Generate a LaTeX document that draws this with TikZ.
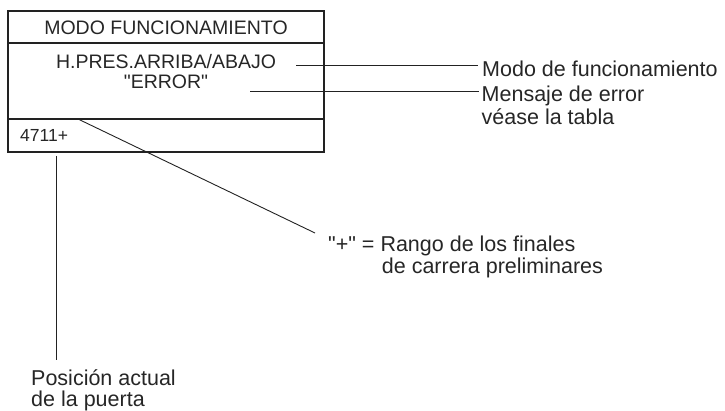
\documentclass[tikz,border=0pt]{standalone}
\usepackage{fontspec}
\setmainfont{Liberation Sans}
\definecolor{txt}{HTML}{262626}
\definecolor{ln}{HTML}{222222}
\begin{document}
\begin{tikzpicture}[x=1pt,y=-1pt,
  boxline/.style={draw=ln,line width=1.8pt},
  leader/.style={draw=ln,line width=0.9pt},
  boxtxt/.style={inner sep=0pt,text=txt,font=\fontsize{19.5}{22}\selectfont},
  smalltxt/.style={inner sep=0pt,text=txt,font=\fontsize{17.5}{20}\selectfont},
  labtxt/.style={inner sep=0pt,text=txt,font=\fontsize{21.5}{24}\selectfont}]
\useasboundingbox (0,0) rectangle (725,411);
% box
\coordinate (tl) at (8,11);
\coordinate (br) at (324,152);
\draw[boxline] (tl) rectangle (br);
\draw[boxline] (8,43) -- (324,43);
\draw[boxline] (8,119) -- (324,119);
% box texts
\node[boxtxt,anchor=base] (title) at (166,34.3) {MODO FUNCIONAMIENTO};
\node[boxtxt,anchor=base] (hpres) at (166,68.3) {H.PRES.ARRIBA/ABAJO};
\node[boxtxt,anchor=base] (error) at (166,88.3) {\textquotedbl ERROR\textquotedbl};
\node[smalltxt,anchor=base west] (pos) at (20,141.7) {4711+};
% labels
\node[labtxt,anchor=base west] (modo) at (482,76.7) {Modo de funcionamiento};
\node[labtxt,anchor=base west] (mens) at (481.5,101.7) {Mensaje de error};
\node[labtxt,anchor=base west] (vease) at (481.5,125) {véase la tabla};
\node[labtxt,anchor=base west] (rango) at (328,251.7) {\textquotedbl+\textquotedbl{} = Rango de los finales};
\node[labtxt,anchor=base west] (carrera) at (381.7,273.3) {de carrera preliminares};
\node[labtxt,anchor=base west] (posact) at (31,385.5) {Posición actual};
\node[labtxt,anchor=base west] (puerta) at (31,406) {de la puerta};
% connector ends
\coordinate (m1) at (296,65.5);
\coordinate (m2) at (478,65.5);
\coordinate (e1) at (250,91);
\coordinate (e2) at (479,91);
\coordinate (d1) at (78,119);
\coordinate (d2) at (315,233);
\coordinate (v1) at (56,156);
\coordinate (v2) at (56,360);
\draw[leader] (m1) -- (m2);
\draw[leader] (e1) -- (e2);
\draw[leader] (d1) -- (d2);
\draw[leader] (v1) -- (v2);
\end{tikzpicture}
\end{document}
